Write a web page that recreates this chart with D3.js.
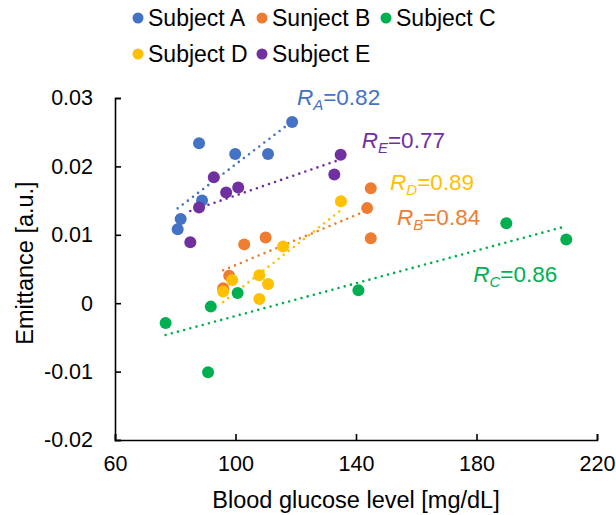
<!DOCTYPE html>
<html>
<head>
<meta charset="utf-8">
<script src="https://cdn.jsdelivr.net/npm/d3@7"></script>
<style>
  body { margin: 0; background: #fff; }
  svg text { font-family: "Liberation Sans", Arial, sans-serif; }
</style>
</head>
<body>
<div id="chart"></div>
<script>
// series names as printed in the legend (typo kept from original)
var seriesNames = ["Subject A", "Sunject B", "Subject C", "Subject D", "Subject E"];
var seriesKeys = ["A", "B", "C", "D", "E"];
var seriesColors = ["#4472C4", "#ED7D31", "#00B050", "#FFC000", "#7030A0"];

// glucose [mg/dL] and emittance [a.u.] per subject
var glucoseA = [80.8, 81.8, 87.9, 88.9, 99.9, 110.8, 118.8];
var emitA = [0.0108, 0.0123, 0.0234, 0.0150, 0.0218, 0.0218, 0.0265];
var glucoseB = [95.9, 97.9, 102.9, 110.0, 143.7, 144.9, 144.9];
var emitB = [0.0022, 0.0040, 0.0086, 0.0096, 0.0139, 0.0168, 0.0095];
var glucoseC = [76.8, 90.9, 91.8, 100.7, 140.8, 189.9, 209.8];
var emitC = [-0.0029, -0.0101, -0.0005, 0.0015, 0.0019, 0.0117, 0.0093];
var glucoseD = [95.9, 98.9, 107.9, 107.9, 110.8, 115.8, 135.0];
var emitD = [0.0017, 0.0034, 0.0041, 0.0006, 0.0028, 0.0083, 0.0149];
var glucoseE = [85.0, 87.9, 92.8, 96.9, 100.9, 132.8, 134.9];
var emitE = [0.0089, 0.0140, 0.0184, 0.0162, 0.0169, 0.0188, 0.0217];

var rValues = ["0.82", "0.84", "0.86", "0.89", "0.77"];
// where each R label sits, in data units (glucose, emittance)
var rLabelX = [120.4, 153.6, 178.9, 151.3, 141.9];
var rLabelY = [0.0290, 0.01143, 0.00314, 0.01655, 0.02269];

var xTicks = [60, 100, 140, 180, 220];
var yTicks = [-0.02, -0.01, 0, 0.01, 0.02, 0.03];

var xs = [glucoseA, glucoseB, glucoseC, glucoseD, glucoseE];
var ys = [emitA, emitB, emitC, emitD, emitE];

var width = 616, height = 515;
var margin = { top: 98, right: 19, bottom: 75, left: 115 };

var svg = d3.select("#chart").append("svg")
    .attr("width", width)
    .attr("height", height);

var x = d3.scaleLinear().domain([60, 220]).range([margin.left, width - margin.right]);
var y = d3.scaleLinear().domain([-0.02, 0.03]).range([height - margin.bottom, margin.top]);

// axes, ticks inside like the Excel original
var xAxis = svg.append("g")
    .attr("transform", "translate(0," + y(-0.02) + ")")
    .call(d3.axisBottom(x).tickValues(xTicks).tickSizeInner(-6).tickSizeOuter(-6).tickPadding(14));
var yAxis = svg.append("g")
    .attr("transform", "translate(" + x(60) + ",0)")
    .call(d3.axisLeft(y).tickValues(yTicks).tickSizeInner(-6).tickSizeOuter(-6).tickPadding(22)
        .tickFormat(function(d) { return d === 0 ? "0" : d.toFixed(2); }));

[xAxis, yAxis].forEach(function(g) {
    g.selectAll("path, line").attr("stroke", "#000").attr("stroke-width", 1.6);
    g.selectAll("text").attr("font-size", 21.5).attr("fill", "#000");
});
xAxis.selectAll("text").attr("dy", "0.8em");

svg.append("text")
    .attr("x", (x(60) + x(220)) / 2)
    .attr("y", 508)
    .attr("text-anchor", "middle")
    .attr("font-size", 23.5)
    .text("Blood glucose level [mg/dL]");

svg.append("text")
    .attr("transform", "translate(33," + 263 + ") rotate(-90)")
    .attr("text-anchor", "middle")
    .attr("font-size", 23.5)
    .text("Emittance [a.u.]");

// least squares fit for the trendlines
function fit(xv, yv) {
    var mx = d3.mean(xv), my = d3.mean(yv), sxy = 0, sxx = 0;
    xv.forEach(function(v, i) {
        sxy += (v - mx) * (yv[i] - my);
        sxx += (v - mx) * (v - mx);
    });
    var b = sxy / sxx;
    return function(v) { return my + b * (v - mx); };
}

var trend = svg.append("g");
seriesKeys.forEach(function(k, i) {
    var f = fit(xs[i], ys[i]);
    var x0 = d3.min(xs[i]), x1 = d3.max(xs[i]);
    trend.append("line")
        .attr("x1", x(x0)).attr("y1", y(f(x0)))
        .attr("x2", x(x1)).attr("y2", y(f(x1)))
        .attr("stroke", seriesColors[i])
        .attr("stroke-width", 2.6)
        .attr("stroke-linecap", "round")
        .attr("stroke-dasharray", "0,6.4");
});

var dots = svg.append("g");
seriesKeys.forEach(function(k, i) {
    dots.append("g").selectAll("circle")
        .data(xs[i].map(function(v, j) { return [v, ys[i][j]]; }))
        .enter().append("circle")
        .attr("cx", function(d) { return x(d[0]); })
        .attr("cy", function(d) { return y(d[1]); })
        .attr("r", 6)
        .attr("fill", seriesColors[i]);
});

// R labels
seriesKeys.forEach(function(k, i) {
    var t = svg.append("text")
        .attr("x", x(rLabelX[i]))
        .attr("y", y(rLabelY[i]))
        .attr("font-size", 22.5)
        .attr("fill", seriesColors[i]);
    t.append("tspan").attr("font-style", "italic").text("R");
    t.append("tspan").attr("font-style", "italic").attr("font-size", 15).attr("dy", 5).text(k);
    t.append("tspan").attr("dy", -5).text("=" + rValues[i]);
});

// legend, two rows
var legendX = [138, 262, 386, 138, 262];
var legendY = [18, 18, 18, 54, 54];
var legend = svg.append("g");
seriesNames.forEach(function(name, i) {
    legend.append("circle")
        .attr("cx", legendX[i]).attr("cy", legendY[i]).attr("r", 5.5)
        .attr("fill", seriesColors[i]);
    legend.append("text")
        .attr("x", legendX[i] + 10)
        .attr("y", legendY[i])
        .attr("dy", "0.35em")
        .attr("font-size", 23)
        .text(name);
});
</script>
</body>
</html>
